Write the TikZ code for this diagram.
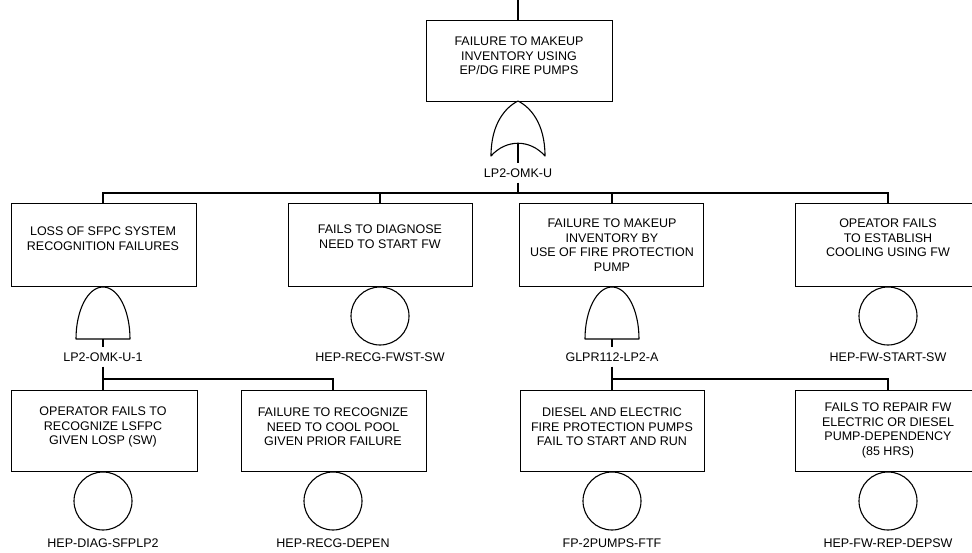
\documentclass[tikz,border=0pt]{standalone}
\usepackage{fontspec}
\setmainfont{Liberation Sans}
\begin{document}
\begin{tikzpicture}[x=1pt,y=-1pt,
  every node/.style={font=\fontsize{12.5}{14.5}\selectfont},
  conn/.style={line width=1.1pt},
  evbox/.style={draw, line width=1.1pt, anchor=north west, inner sep=0pt},
  evtext/.style={align=center, inner sep=0pt},
  gatelabel/.style={inner xsep=1pt, inner ysep=5pt, text height=9pt, text depth=0pt},
  basic/.style={draw, circle, line width=1.1pt, minimum size=58pt, inner sep=0pt},
  gateline/.style={line width=1.1pt, line join=round},
  orgate/.pic={
    \draw[gateline] (0,0) .. controls (-12,6) and (-27,22) .. (-27,55)
      .. controls (-12,38) and (12,38) .. (27,55)
      .. controls (27,22) and (12,6) .. (0,0) -- cycle;
    \coordinate (-out) at (0,42);
  },
  andgate/.pic={
    \draw[gateline] (-27,52) .. controls (-27,23) and (-15,0) .. (0,0)
      .. controls (15,0) and (27,23) .. (27,52) -- cycle;
    \coordinate (-out) at (0,52);
  }
]
\useasboundingbox (0,0) rectangle (972,552);

% ---- top event ----
\coordinate (top in) at (518,-5);
\node[evbox, minimum width=186pt, minimum height=81pt] (top) at (426,20) {};
\node[evtext] (top txt) at (519,56) {FAILURE TO MAKEUP\\INVENTORY USING\\EP/DG FIRE PUMPS};
\draw[conn] (top in) -- (top in |- top.north);

\pic (g0) at (518,101) {orgate};
\node[gatelabel] (g0 lab) at (518,173) {LP2-OMK-U};
\draw[conn] (g0-out) -- (g0 lab.north);
\coordinate (bus0) at (518,193);
\draw[conn] (g0 lab.south) -- (bus0);

% ---- second level ----
\node[evbox, minimum width=185pt, minimum height=83pt] (b1) at (11,203) {};
\node[evtext] (b1 txt) at (103,238.5) {LOSS OF SFPC SYSTEM\\RECOGNITION FAILURES};
\node[evbox, minimum width=184pt, minimum height=83pt] (b2) at (288,203) {};
\node[evtext] (b2 txt) at (380,236.5) {FAILS TO DIAGNOSE\\NEED TO START FW};
\node[evbox, minimum width=184pt, minimum height=83pt] (b3) at (519,203) {};
\node[evtext] (b3 txt) at (612,245) {FAILURE TO MAKEUP\\INVENTORY BY\\USE OF FIRE PROTECTION\\PUMP};
\node[evbox, minimum width=176.5pt, minimum height=83pt] (b4) at (795,203) {};
\node[evtext] (b4 txt) at (888,238) {OPEATOR FAILS\\TO ESTABLISH\\COOLING USING FW};

\draw[conn] (bus0) -| (b1 txt |- b1.north);
\draw[conn] (bus0) -| (b2 txt |- b2.north);
\draw[conn] (bus0) -| (b3 txt |- b3.north);
\draw[conn] (bus0) -| (b4 txt |- b4.north);

\pic (g1) at (103,287) {andgate};
\node[gatelabel] (g1 lab) at (103,357) {LP2-OMK-U-1};
\draw[conn] (g1-out) -- (g1 lab.north);

\node[basic] (e2) at (380,316) {};
\node[gatelabel] (e2 lab) at (380,357) {HEP-RECG-FWST-SW};

\pic (g3) at (612,287) {andgate};
\node[gatelabel] (g3 lab) at (612,357) {GLPR112-LP2-A};
\draw[conn] (g3-out) -- (g3 lab.north);

\node[basic] (e4) at (888,316) {};
\node[gatelabel] (e4 lab) at (888,357) {HEP-FW-START-SW};

% ---- third level ----
\coordinate (bus1) at (103,379);
\coordinate (bus3) at (612,379);
\draw[conn] (g1 lab.south) -- (bus1);
\draw[conn] (g3 lab.south) -- (bus3);

\node[evbox, minimum width=186pt, minimum height=81pt] (b5) at (11,390) {};
\node[evtext] (b5 txt) at (103,427) {OPERATOR FAILS TO\\RECOGNIZE LSFPC\\GIVEN LOSP (SW)};
\node[evbox, minimum width=185pt, minimum height=81pt] (b6) at (241,390) {};
\node[evtext] (b6 txt) at (333,427) {FAILURE TO RECOGNIZE\\NEED TO COOL POOL\\GIVEN PRIOR FAILURE};
\node[evbox, minimum width=184pt, minimum height=81pt] (b7) at (520,390) {};
\node[evtext] (b7 txt) at (612,427) {DIESEL AND ELECTRIC\\FIRE PROTECTION PUMPS\\FAIL TO START AND RUN};
\node[evbox, minimum width=176.5pt, minimum height=81pt] (b8) at (795,390) {};
\node[evtext] (b8 txt) at (888,430.5) {FAILS TO REPAIR FW\\ELECTRIC OR DIESEL\\PUMP-DEPENDENCY\\(85 HRS)};

\draw[conn] (bus1) -| (b5 txt |- b5.north);
\draw[conn] (bus1) -| (b6 txt |- b6.north);
\draw[conn] (bus3) -| (b7 txt |- b7.north);
\draw[conn] (bus3) -| (b8 txt |- b8.north);

\node[basic] (e5) at (103,501) {};
\node[gatelabel] (e5 lab) at (103,543) {HEP-DIAG-SFPLP2};
\node[basic] (e6) at (333,501) {};
\node[gatelabel] (e6 lab) at (333,543) {HEP-RECG-DEPEN};
\node[basic] (e7) at (612,501) {};
\node[gatelabel] (e7 lab) at (612,543) {FP-2PUMPS-FTF};
\node[basic] (e8) at (888,501) {};
\node[gatelabel] (e8 lab) at (888,543) {HEP-FW-REP-DEPSW};
\end{tikzpicture}
\end{document}
